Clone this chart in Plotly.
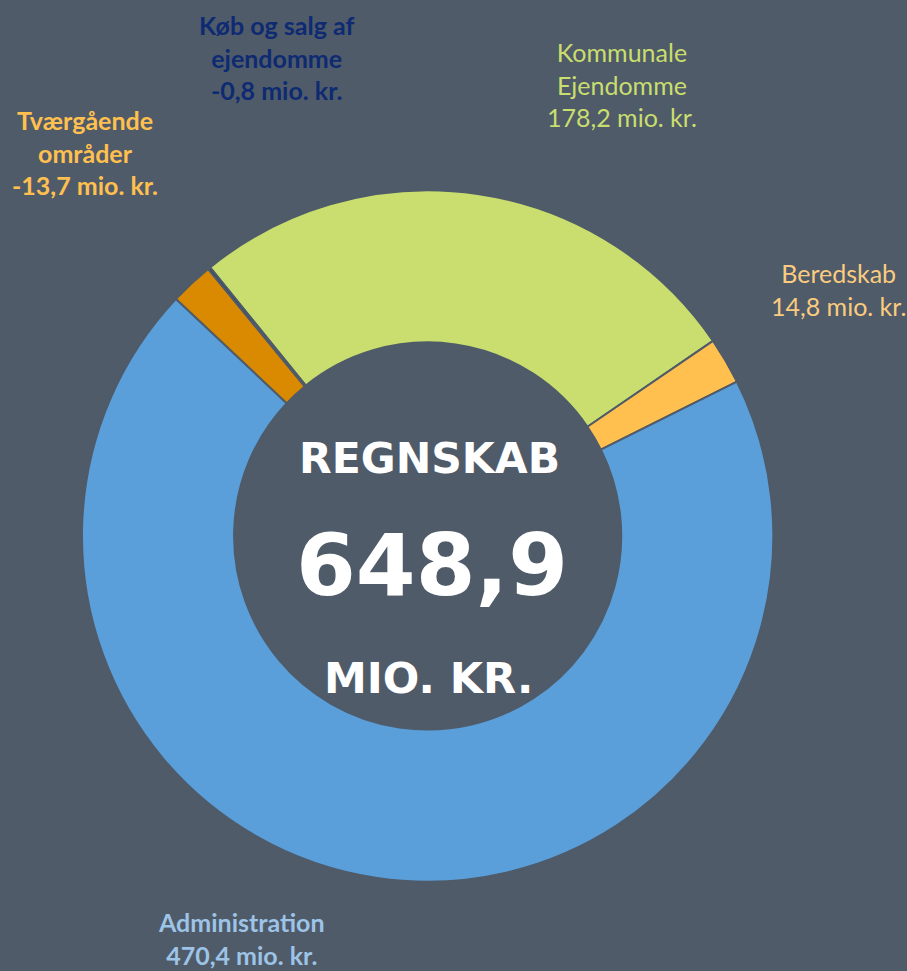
import plotly.graph_objects as go

# slices, clockwise from the top-left edge of the green slice
labels = ["Kommunale<br>Ejendomme", "Beredskab", "Administration",
          "Tværgående<br>områder", "Køb og salg af<br>ejendomme"]
values = [178.2, 14.8, 470.4, -13.7, -0.8]
slice_colors = ["#C9DE6E", "#FFC04F", "#5A9FDA", "#D98A00", "#1F3A78"]
text_colors = ["#C9DE6E", "#FBCB7F", "#9DC3E6", "#FFC04F", "#0E2A72"]
bold = [False, False, True, True, True]
total_label = "648,9"

BG = "#4F5B69"

# label anchor positions (paper coords)
label_pos = [(0.686, 0.913), (0.924, 0.702), (0.266, 0.033), (0.094, 0.843), (0.305, 0.941)]

fig = go.Figure(
    go.Pie(
        labels=[l.replace("<br>", " ") for l in labels],
        values=[abs(v) for v in values],
        sort=False,
        direction="clockwise",
        rotation=-39,
        hole=0.56,
        marker=dict(colors=slice_colors, line=dict(color=BG, width=2)),
        textinfo="none",
        hoverinfo="label+value",
        domain=dict(x=[0.090, 0.853], y=[0.092, 0.804]),
        showlegend=False,
    )
)

for lab, v, c, b, (x, y) in zip(labels, values, text_colors, bold, label_pos):
    txt = f"{lab}<br>{v:.1f}".replace(".", ",") + " mio. kr."
    if b:
        txt = "<b>" + txt.replace("<br>", "</b><br><b>") + "</b>"
    fig.add_annotation(
        x=x, y=y, xref="paper", yref="paper", text=txt, showarrow=False,
        font=dict(family="Lato", size=25, color=c), align="center",
        xanchor="center", yanchor="middle",
    )

# centre text
center_font = "DejaVu Sans"
for txt, px, py, size in [("REGNSKAB", 429, 458, 42.5), (total_label, 432, 565, 86),
                          ("MIO. KR.", 428, 678, 43)]:
    fig.add_annotation(x=px / 907, y=1 - py / 971, xref="paper", yref="paper",
                       text=f"<b>{txt}</b>", showarrow=False,
                       xanchor="center", yanchor="middle",
                       font=dict(family=center_font, size=size, color="white"))

fig.update_layout(
    width=907, height=971,
    paper_bgcolor=BG, plot_bgcolor=BG,
    margin=dict(l=0, r=0, t=0, b=0),
)

fig.write_html("out.html", config={"displayModeBar": False},
               post_script="document.body.style.margin='0';")
